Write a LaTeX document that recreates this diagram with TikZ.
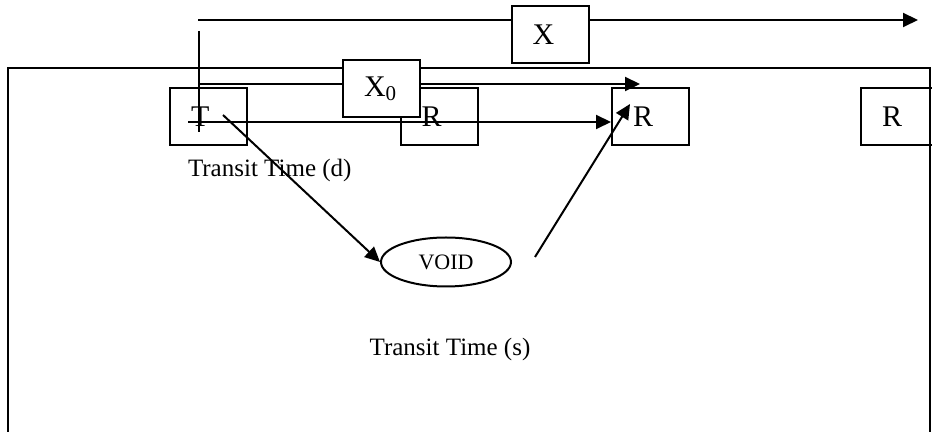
\documentclass[tikz,border=0pt]{standalone}
\usepackage{fontspec}
\setmainfont{Liberation Serif}
\usetikzlibrary{arrows.meta,shapes.geometric}

\begin{document}
\begin{tikzpicture}[x=0.5pt,y=-0.5pt,line width=1pt,
  box/.style={draw,rectangle,minimum height=28.5pt,text width=17.5pt,inner xsep=10.5pt,inner ysep=0pt,align=left,font=\fontsize{15}{18}\selectfont},
  wbox/.style={box,fill=white},
  arr/.style={-{Triangle[length=7.5pt,width=7pt]}},
  txt/.style={inner sep=0pt,font=\fontsize{12.5}{15}\selectfont}]
\useasboundingbox (0,0) rectangle (932,432);
% outer frame
\draw (8,68) rectangle (930,432.6);
% station boxes
\node[box] (tx) at (208.5,116.5) {T};
\node[box] (rxA) at (439,116.5) {R};
\node[box] (rxB) at (650.5,116.5) {R};
\node[box] (rxC) at (899.5,116.5) {R};
\node[draw,ellipse,minimum width=65pt,minimum height=24.5pt,inner sep=0pt,font=\fontsize{11}{13}\selectfont] (void) at (446,262) {VOID};
\node[txt,anchor=west] (tdlab) at (187,170) {Transit Time (d)};
\node[txt] (tslab) at (450,349) {Transit Time (s)};
% free ends
\coordinate (topL) at (198,20);
\coordinate (topR) at (918,20);
\coordinate (vTop) at (199,31);
\coordinate (vBot) at (199,132);
\coordinate (midL) at (199,84);
\coordinate (midR) at (640,84);
\coordinate (lowL) at (188,122);
\coordinate (dS) at (223,115);
\coordinate (vS) at (535,257);
\coordinate (vE) at (630,104);
% paths
\draw[arr] (topL) -- (topR);
\draw (vTop) -- (vBot);
\draw[arr] (midL) -- (midR);
\draw[arr] (lowL) -- (lowL -| rxB.west);
\draw[arr] (dS) -- (void.west);
\draw[arr] (vS) -- (vE);
% offset boxes on top of the lines
\node[wbox] (offX) at (550,35) {X};
\node[wbox] (offXo) at (381.5,89) {X\textsubscript{0}};
\end{tikzpicture}
\end{document}
